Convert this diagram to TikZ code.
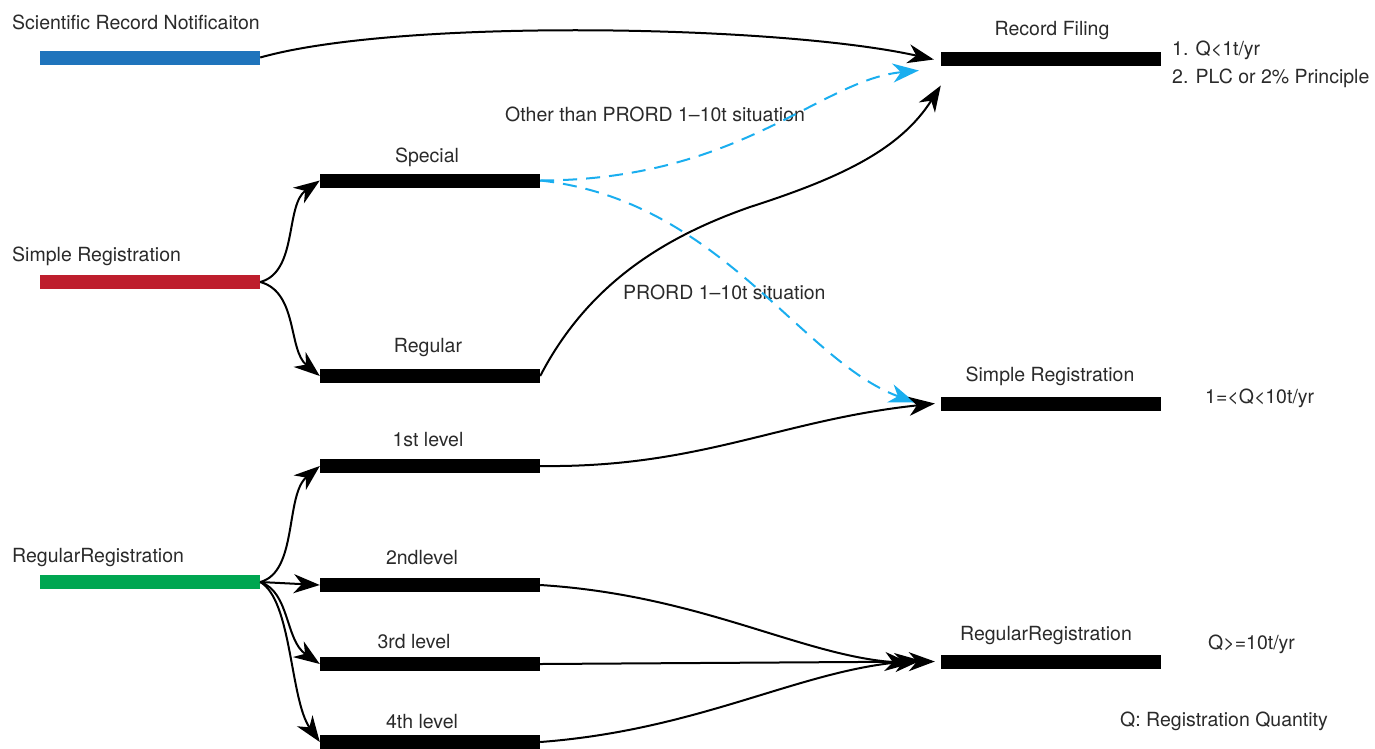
\documentclass[tikz,border=0pt]{standalone}
\usepackage{fontspec}
\setmainfont{TeX Gyre Heros}
\usetikzlibrary{arrows.meta}
\definecolor{barblue}{HTML}{1F74BC}
\definecolor{barred}{HTML}{BE1E2D}
\definecolor{bargreen}{HTML}{00A651}
\definecolor{dashcyan}{HTML}{1AAEEF}
\definecolor{txt}{HTML}{2A2A2A}
\tikzset{
 bigtip/.tip={Stealth[length=26pt,width=19pt,inset=8pt]}
}
\begin{document}
\begin{tikzpicture}[x=1pt,y=-1pt,
 bar/.style={rectangle,inner sep=0pt,minimum width=220pt,minimum height=14pt,fill=black},
 lbl/.style={font=\fontsize{19.5}{22}\selectfont,text=txt,inner sep=0pt},
 conn/.style={line width=2pt,-bigtip},
 dconn/.style={line width=2pt,dashcyan,dash pattern=on 14pt off 9pt,-bigtip}
]
\useasboundingbox (0,0) rectangle (1375,748);

% bars
\node[bar,fill=barblue] (sci) at (150,57.5) {};
\node[bar,fill=barred] (red) at (150,282) {};
\node[bar,fill=bargreen] (green) at (150,582) {};
\node[bar] (special) at (430,180.5) {};
\node[bar] (regular) at (430,376) {};
\node[bar] (l1) at (430,466) {};
\node[bar] (l2) at (430,585) {};
\node[bar] (l3) at (430,664) {};
\node[bar] (l4) at (430,742) {};
\node[bar] (rf) at (1051,58.5) {};
\node[bar] (sr) at (1051,403.5) {};
\node[bar] (rr) at (1051,661.5) {};

% labels
\node[lbl,anchor=west] (tsci) at (12,22) {Scientific Record Notificaiton};
\node[lbl,anchor=west] (tred) at (12,256) {Simple Registration};
\node[lbl,anchor=west] (tgreen) at (12,558) {RegularRegistration};
\node[lbl] (tspecial) at (427,157) {Special};
\node[lbl] (tregular) at (428,348) {Regular};
\node[lbl] (tl1) at (428,440) {1st level};
\node[lbl] (tl2) at (422,558) {2ndlevel};
\node[lbl] (tl3) at (414,642) {3rd level};
\node[lbl] (tl4) at (422,722) {4th level};
\node[lbl] (trf) at (1052,31) {Record Filing};
\node[lbl] (tsr) at (1050,376) {Simple Registration};
\node[lbl] (trr) at (1046,636) {RegularRegistration};
\node[lbl,anchor=west] (c1) at (1172,50) {1. Q\textless1t/yr};
\node[lbl,anchor=west] (c2) at (1172,78) {2. PLC or 2\% Principle};
\node[lbl,anchor=west] (c3) at (1205,398) {1=\textless Q\textless10t/yr};
\node[lbl,anchor=west] (c4) at (1208,644) {Q\textgreater=10t/yr};
\node[lbl,anchor=west] (c5) at (1120,721) {Q: Registration Quantity};
\node[lbl,anchor=west] (other) at (505,114) {Other than PRORD 1–10t situation};
\node[lbl,anchor=west] (prord) at (623,292) {PRORD 1–10t situation};

% connectors
\draw[conn] (sci.east) .. controls (400,18) and (780,25) .. ([xshift=-7pt,yshift=-1pt]rf.west);
\draw[conn] (red.east) .. controls (298,272) and (285,205) .. (special.west);
\draw[conn] (red.east) .. controls (298,292) and (288,350) .. (regular.west);
\draw[dconn] (special.east) .. controls (740,180) and (820,80) .. ([xshift=-22pt,yshift=-12pt]rf.west);
\draw[dconn] (special.east) .. controls (720,200) and (800,360) .. ([xshift=-26pt,yshift=1pt]sr.west);
\draw[conn] (regular.east) .. controls (590,280) and (670,235) .. (750,207) .. controls (840,178) and (900,150) .. ([yshift=-27pt]rf.west);
\draw[conn] (l1.east) .. controls (700,468) and (780,420) .. ([xshift=-6pt]sr.west);
\draw[conn] (green.east) .. controls (298,572) and (285,495) .. (l1.west);
\draw[conn] (green.east) -- (l2.west);
\draw[conn] (green.east) .. controls (290,592) and (285,640) .. (l3.west);
\draw[conn] (green.east) .. controls (292,600) and (290,700) .. (l4.west);
\draw[conn] (l2.east) .. controls (700,595) and (800,655) .. ([xshift=-30pt,yshift=-2pt]rr.west);
\draw[conn] (l3.east) -- ([xshift=-6pt]rr.west);
\draw[conn] (l4.east) .. controls (700,730) and (800,670) .. ([xshift=-20pt,yshift=1pt]rr.west);
\end{tikzpicture}
\end{document}
